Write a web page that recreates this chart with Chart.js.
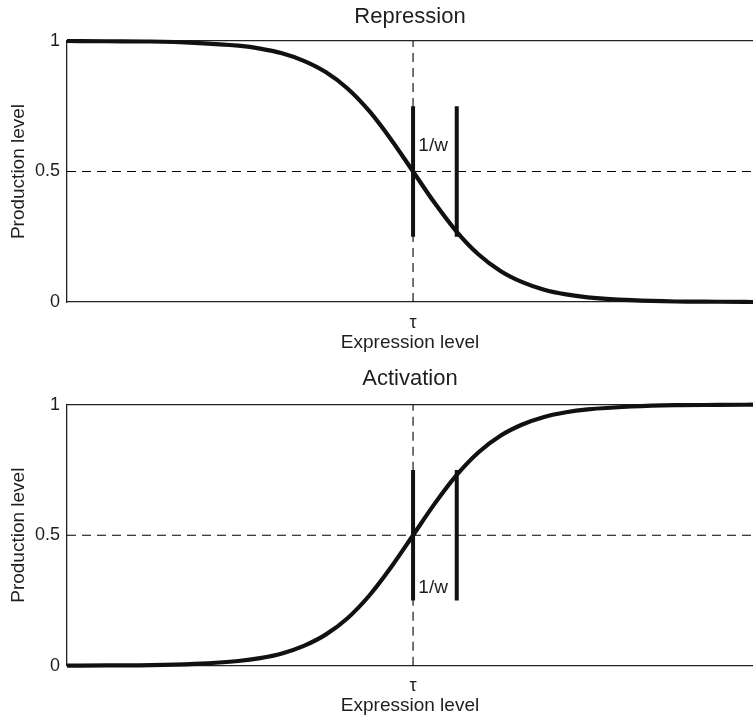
<!DOCTYPE html>
<html>
<head>
<meta charset="utf-8">
<script src="https://cdn.jsdelivr.net/npm/chart.js@4.4.0/dist/chart.umd.min.js"></script>
<style>
  html, body { margin: 0; padding: 0; background: #fff; overflow: hidden; }
  .panel { position: absolute; left: 0; width: 753px; }
  #top-panel { top: 0; height: 362px; }
  #bottom-panel { top: 362px; height: 358px; }
</style>
</head>
<body>
<div class="panel" id="top-panel"><canvas id="repression-chart"></canvas></div>
<div class="panel" id="bottom-panel"><canvas id="activation-chart"></canvas></div>
<script>
// expression level in units of 1/w, measured from tau
const expressionLevels = [-7.92, -7, -6, -5, -4, -3.5, -3, -2.5, -2, -1.5, -1, -0.5, 0, 0.5, 1, 1.5, 2, 2.5, 3, 3.5, 4, 5, 6, 7, 7.78];
const repressionLevels = [1.0, 0.999, 0.998, 0.993, 0.982, 0.971, 0.953, 0.924, 0.881, 0.818, 0.731, 0.622, 0.5, 0.378, 0.269, 0.182, 0.119, 0.076, 0.047, 0.029, 0.018, 0.007, 0.002, 0.001, 0.0];
const activationLevels = [0.0, 0.001, 0.002, 0.007, 0.018, 0.029, 0.047, 0.076, 0.119, 0.182, 0.269, 0.378, 0.5, 0.622, 0.731, 0.818, 0.881, 0.924, 0.953, 0.971, 0.982, 0.993, 0.998, 0.999, 1.0];

const tau = 0;
const invW = 1;
const barRange = [0.25, 0.75];
const halfLevel = 0.5;
const xRange = [-7.92, 7.78];
const yTicks = [0, 0.5, 1];
const yTickLabels = ['0', '0.5', '1'];
const xTickLabel = 'τ';

const FONT = '"Liberation Sans", Arial, Helvetica, sans-serif';
const INK = '#111';
const TEXT = '#1e1e1e';

// draws the "1/w" note between the two bars
const widthLabel = {
    id: 'widthLabel',
    afterDatasetsDraw(chart, args, opts) {
        const { ctx, scales: { x, y } } = chart;
        ctx.save();
        ctx.font = `19px ${FONT}`;
        ctx.fillStyle = TEXT;
        ctx.textAlign = 'center';
        ctx.textBaseline = 'middle';
        ctx.fillText(opts.text, x.getPixelForValue(opts.at[0]), y.getPixelForValue(opts.at[1]));
        ctx.restore();
    },
};

function segment(x0, y0, x1, y1) {
    return [{ x: x0, y: y0 }, { x: x1, y: y1 }];
}

function buildChart(canvasId, title, levels, labelAt, topH, bottomH, titlePad) {
    const curve = expressionLevels.map((x, i) => ({ x, y: levels[i] }));

    return new Chart(document.getElementById(canvasId), {
        type: 'line',
        data: {
            datasets: [
                {
                    data: segment(tau, barRange[0], tau, barRange[1]),
                    borderColor: INK, borderWidth: 4, order: 0,
                },
                {
                    data: segment(tau + invW, barRange[0], tau + invW, barRange[1]),
                    borderColor: INK, borderWidth: 4, order: 0,
                },
                {
                    data: curve,
                    borderColor: INK, borderWidth: 4.2, order: 1,
                    cubicInterpolationMode: 'monotone', clip: false,
                },
                {
                    data: segment(xRange[0], halfLevel, xRange[1], halfLevel),
                    borderColor: '#000', borderWidth: 1.1, borderDash: [9, 6], order: 2,
                },
                {
                    data: segment(tau, 0, tau, 1),
                    borderColor: '#000', borderWidth: 1.1, borderDash: [9, 6], order: 2,
                },
            ],
        },
        options: {
            responsive: true,
            maintainAspectRatio: false,
            animation: false,
            layout: { padding: 0 },
            elements: { point: { radius: 0, hoverRadius: 0 }, line: { tension: 0 } },
            plugins: {
                legend: { display: false },
                tooltip: { enabled: false },
                widthLabel: { text: '1/w', at: labelAt },
            },
            scales: {
                xTop: {
                    type: 'linear',
                    position: 'top',
                    min: xRange[0],
                    max: xRange[1],
                    ticks: { display: false },
                    grid: { display: false, drawTicks: false },
                    border: { display: true, color: '#222', width: 1.3 },
                    title: {
                        display: true, text: title, color: TEXT,
                        font: { family: FONT, size: 22 }, padding: { top: 4, bottom: 0 },
                    },
                    afterFit: (s) => { s.height = topH; },
                },
                x: {
                    type: 'linear',
                    position: 'bottom',
                    min: xRange[0],
                    max: xRange[1],
                    afterBuildTicks: (s) => { s.ticks = [{ value: tau }]; },
                    ticks: {
                        callback: () => xTickLabel,
                        autoSkip: false, maxRotation: 0, padding: 10,
                        color: TEXT, font: { family: FONT, size: 18 },
                    },
                    grid: { display: false, drawTicks: false },
                    border: { display: true, color: '#222', width: 1.3 },
                    title: {
                        display: true, text: 'Expression level', color: TEXT,
                        font: { family: FONT, size: 19 }, padding: { top: 0, bottom: titlePad },
                    },
                    afterFit: (s) => { s.height = bottomH; },
                },
                y: {
                    type: 'linear',
                    min: 0,
                    max: 1,
                    afterBuildTicks: (s) => { s.ticks = yTicks.map((v) => ({ value: v })); },
                    ticks: {
                        callback: (v) => yTickLabels[yTicks.indexOf(v)],
                        padding: 7, color: TEXT, font: { family: FONT, size: 18 },
                    },
                    grid: { display: false, drawTicks: false },
                    border: { display: true, color: '#222', width: 1.3 },
                    title: {
                        display: true, text: 'Production level', color: TEXT,
                        font: { family: FONT, size: 19 }, padding: { top: 7, bottom: 0 },
                    },
                    afterFit: (s) => { s.width = 67; },
                },
            },
        },
        plugins: [widthLabel],
    });
}

buildChart('repression-chart', 'Repression', repressionLevels, [0.46, 0.6], 41, 60, 8);
buildChart('activation-chart', 'Activation', activationLevels, [0.46, 0.298], 42.7, 54.3, 3);
</script>
</body>
</html>
